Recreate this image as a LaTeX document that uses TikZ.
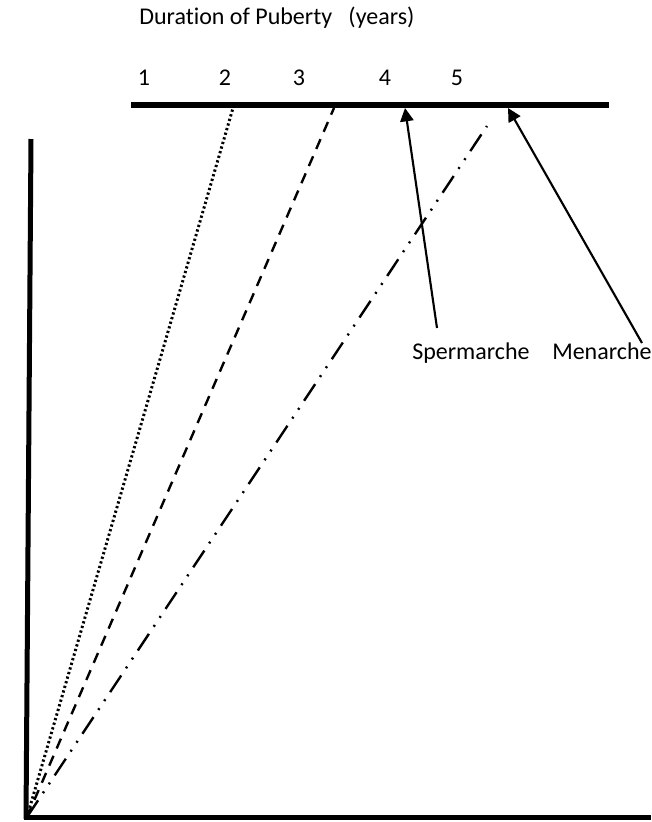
\documentclass[tikz,border=0pt]{standalone}
\usepackage{fontspec}
\setmainfont[Ligatures=NoCommon]{Carlito}
\usetikzlibrary{arrows.meta}

\begin{document}
\begin{tikzpicture}[x=0.75pt, y=-0.75pt, >={Triangle[length=10pt,width=10pt]},
  font=\fontsize{18}{21}\selectfont,
  axis/.style={line width=3.75pt},
  bar/.style={line width=4.5pt},
  guide/.style={line width=1.8pt},
  pointer/.style={->, line width=1.6pt},
  lbl/.style={inner sep=0pt, anchor=base west}]
\useasboundingbox (0,0) rectangle (651,822);
% axes and the duration bar
\coordinate (origin) at (27,817);
\draw[axis] (31,139) -- (26,819);
\draw[axis] (24,817) -- (651,817);
\draw[bar] (131,105) -- (609,105);
\node[lbl] (title) at (139,24) {Duration of Puberty\ \ \ (years)};
\foreach \yr/\px in {1/144, 2/225, 3/299, 4/385, 5/457}
  \node[inner sep=0pt, anchor=base] (yr\yr) at (\px,85) {\yr};
% growth lines
\coordinate (twoyr) at (233,108);
\coordinate (threeyr) at (334,108);
\coordinate (fiveyr) at (487,126);
\draw[guide, line width=2.2pt, dash pattern=on 1.7pt off 1.9pt] (origin) -- (twoyr);
\draw[guide, dash pattern=on 8pt off 6pt] (origin) -- (threeyr);
\draw[guide, dash pattern=on 15pt off 6.5pt on 1.5pt off 6.5pt on 1.5pt off 6.5pt]
  (origin) -- (fiveyr);
% events
\node[lbl] (sperm) at (412,359) {Spermarche};
\node[lbl] (menar) at (552,359) {Menarche};
\coordinate (spermtail) at (437,328);
\coordinate (menartail) at (642,343);
\draw[pointer] (spermtail) -- (405,108);
\draw[pointer] (menartail) -- (508,108);
\end{tikzpicture}
\end{document}
